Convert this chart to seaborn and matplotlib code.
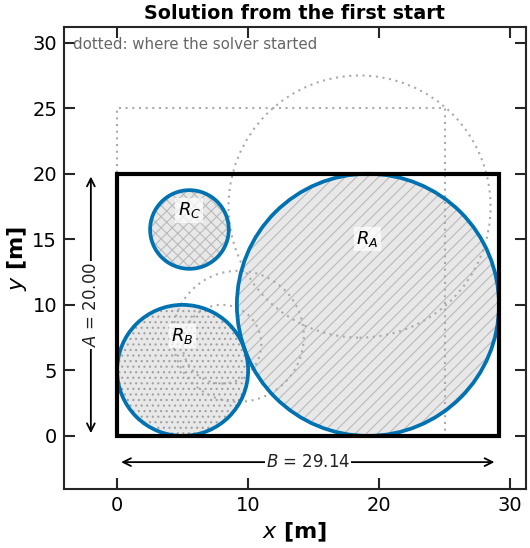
import matplotlib
matplotlib.use("Agg")
import matplotlib.pyplot as plt
from matplotlib.patches import Circle, Rectangle
import seaborn as sns

sns.set_theme(style="ticks")
plt.rcParams['font.family'] = ['DejaVu Sans']
plt.rcParams['mathtext.fontset'] = 'dejavusans'
plt.rcParams['hatch.linewidth'] = 0.8

A = 20.00
B = 29.14
circle_names = ["R_A", "R_B", "R_C"]
circle_x = [19.14, 5.0, 5.52]
circle_y = [10.0, 5.0, 15.75]
circle_r = [10.0, 5.0, 3.0]
circle_hatch = ["///", "...", "xxx"]
label_x = [19.1, 5.0, 5.5]
label_y = [15.0, 7.6, 17.2]
start_A = 25.0
start_B = 25.0
start_x = [18.5, 9.25, 8.0]
start_y = [17.5, 7.6, 7.0]
start_r = [10.0, 5.0, 3.0]
ticks = [0, 10, 20, 30]
yticks = [0, 5, 10, 15, 20, 25, 30]

fig = plt.figure(figsize=(5.3, 5.48), dpi=100)
ax = fig.add_axes([64/530, 1-489/548, 462/530, 462/548])
sns.despine(ax=ax, top=False, right=False)
ax.set_xlim(-4.05, 31.2)
ax.set_ylim(-4.05, 31.2)
ax.set_aspect("equal")

for x, y, r, h in zip(circle_x, circle_y, circle_r, circle_hatch):
    hatch_color = "#a0a0a0" if h == "..." else "#bababa"
    ax.add_patch(Circle((x, y), r, facecolor="#e8e8e8", edgecolor=hatch_color, hatch=h, lw=0, zorder=2))
    ax.add_patch(Circle((x, y), r, fill=False, edgecolor="#0072b2", lw=2.7, zorder=4))

dot = dict(fill=False, edgecolor="#aaaaaa", lw=1.5, ls=(0, (1, 2.2)), zorder=3)
ax.add_patch(Rectangle((0, 0), start_B, start_A, **dot))
for x, y, r in zip(start_x, start_y, start_r):
    ax.add_patch(Circle((x, y), r, **dot))
ax.add_patch(Rectangle((0, 0), B, A, fill=False, edgecolor="black", lw=3, zorder=5))

for n, x, y in zip(circle_names, label_x, label_y):
    ax.text(x, y, f"${n}$", fontsize=13, ha="center", va="center", color="black", zorder=6,
            bbox=dict(facecolor="white", edgecolor="none", alpha=0.7, pad=1.5))

ax.annotate("", xy=(-2, 20), xytext=(-2, 0), zorder=6,
            arrowprops=dict(arrowstyle="<->", color="black", lw=1.3, mutation_scale=14))
ax.text(-2, 10, f"$A$ = {A:.2f}", rotation=90, fontsize=12, color="#222222", ha="center", va="center", zorder=7,
        bbox=dict(facecolor="white", edgecolor="none", pad=1))
ax.annotate("", xy=(0.1, -2), xytext=(29, -2), zorder=6,
            arrowprops=dict(arrowstyle="<->", color="black", lw=1.3, mutation_scale=14))
ax.text(B/2, -2, f"$B$ = {B:.2f}", fontsize=12, color="#222222", ha="center", va="center", zorder=7,
        bbox=dict(facecolor="white", edgecolor="none", pad=1))

ax.text(-3.4, 29.9, "dotted: where the solver started", fontsize=10.8, color="#666666", ha="left", va="center")

ax.set_xticks(ticks)
ax.set_yticks(yticks)
ax.tick_params(direction="in", length=8, width=1.5, top=True, right=True, labelsize=14, color="#262626", labelcolor="black", pad=5)
for s in ax.spines.values():
    s.set_linewidth(1.5)
    s.set_color("#262626")
ax.set_xlabel("$x$ [m]", fontsize=16, fontweight="bold", labelpad=4, color="black")
ax.set_ylabel("$y$ [m]", fontsize=16, fontweight="bold", labelpad=2, color="black")
ax.set_title("Solution from the first start", fontsize=13.8, fontweight="bold", color="black", pad=6)

fig.savefig("out.png", dpi=100)
